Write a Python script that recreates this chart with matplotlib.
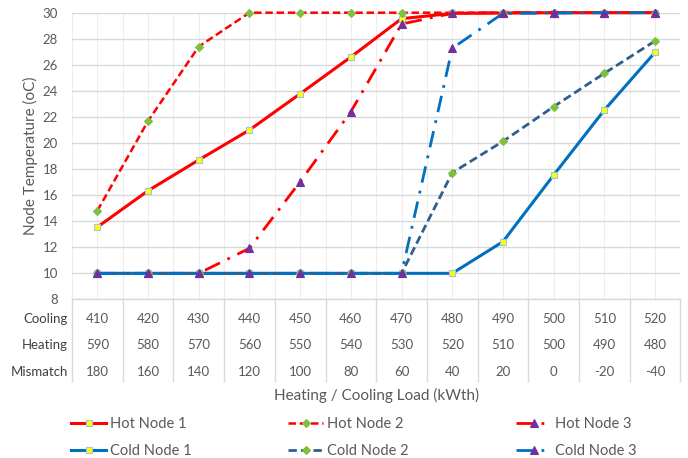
import numpy as np
import matplotlib
matplotlib.use("Agg")
import matplotlib.pyplot as plt
from matplotlib.transforms import blended_transform_factory

plt.rcParams['font.family'] = ['Lato', 'DejaVu Sans']

cooling = [410, 420, 430, 440, 450, 460, 470, 480, 490, 500, 510, 520]
heating = [590, 580, 570, 560, 550, 540, 530, 520, 510, 500, 490, 480]
mismatch = [180, 160, 140, 120, 100, 80, 60, 40, 20, 0, -20, -40]

hot1 = [13.55, 16.34, 18.7, 21.0, 23.78, 26.6, 29.54, 29.95, 29.97, 30, 30, 30]
hot2 = [14.8, 21.69, 27.4, 30, 30, 30, 30, 30, 30, 30, 30, 30]
hot3 = [10, 10, 10, 11.92, 17.03, 22.4, 29.13, 29.95, 30, 30, 30, 30]
cold1 = [10, 10, 10, 10, 10, 10, 10, 10, 12.43, 17.54, 22.53, 26.96]
cold2 = [10, 10, 10, 10, 10, 10, 10, 17.72, 20.13, 22.79, 25.35, 27.83]
cold3 = [10, 10, 10, 10, 10, 10, 10, 27.27, 29.95, 29.97, 30, 30]

TXT = '#595959'
RED = '#FF0000'
BLUE = '#0070C0'
DBLUE = '#2F5F8F'
YEL = '#FFFF00'
SQE = '#9DC3E6'
GRN = '#7FBF3F'
PUR = '#7030A0'

W, H = 688, 458
fig = plt.figure(figsize=(W / 100, H / 100), dpi=100)
ax = fig.add_axes([72 / W, 1 - 299.4 / H, (680.4 - 72) / W, (299.4 - 12.7) / H])

x = np.arange(len(cooling))
series = [
    ('Hot Node 1', hot1, RED, '-', 's', YEL, SQE, 2.2),
    ('Hot Node 2', hot2, RED, (0, (3, 1.5)), 'D', GRN, GRN, 1.8),
    ('Hot Node 3', hot3, RED, (0, (6, 3, 1, 3)), '^', PUR, PUR, 2.0),
    ('Cold Node 1', cold1, BLUE, '-', 's', YEL, SQE, 2.2),
    ('Cold Node 2', cold2, DBLUE, (0, (3, 1.5)), 'D', GRN, GRN, 2.0),
    ('Cold Node 3', cold3, BLUE, (0, (6, 3, 1, 3)), '^', PUR, PUR, 2.0),
]
handles = []
for i, (lab, y, c, ls, m, mfc, mec, lw) in enumerate(series):
    ms = 5.0 if m == 's' else (4.5 if m == 'D' else 6.0)
    h, = ax.plot(x, y, color=c, linestyle=ls, linewidth=lw, marker=m,
                 markersize=ms, markerfacecolor=mfc, markeredgecolor=mec,
                 markeredgewidth=0.8, label=lab, zorder=3 + i, clip_on=False)
    handles.append(h)

ax.set_xlim(-0.5, len(cooling) - 0.5)
ax.set_ylim(8, 30)
ax.set_yticks(np.arange(8, 31, 2))
ax.set_xticks(np.arange(-0.5, len(cooling), 1))
ax.set_xticks(x, minor=True)
ax.set_xticklabels([])
ax.tick_params(axis='both', which='both', length=0)
ax.tick_params(axis='y', labelsize=9.5, labelcolor=TXT, pad=10)
ax.grid(axis='y', color='#D9D9D9', linewidth=1.0)
ax.grid(axis='x', which='both', color='#EDEDED', linewidth=0.8)
ax.set_axisbelow(True)
for s in ['top', 'right', 'left']:
    ax.spines[s].set_visible(False)
ax.spines['bottom'].set_color('#D9D9D9')
ax.spines['bottom'].set_linewidth(1.0)

ax.set_ylabel('Node Temperature (oC)', fontsize=11, color=TXT, labelpad=3)

# table below the plot
tr = blended_transform_factory(ax.transData, fig.transFigure)
bottom_px = 382
ax.vlines(np.arange(-0.5, len(cooling), 1), 1 - 299.4 / H, 1 - bottom_px / H,
          transform=tr, colors='#D9D9D9', linewidth=1.0, clip_on=False)
rows = [('Cooling', cooling, 319), ('Heating', heating, 345), ('Mismatch', mismatch, 372)]
for name, vals, ypx in rows:
    yf = 1 - ypx / H
    fig.text(68 / W, yf, name, ha='right', va='center', fontsize=9.5, color='#404040')
    for xi, v in zip(x, vals):
        ax.text(xi, yf, str(v), transform=tr, ha='center', va='center',
                fontsize=9.5, color=TXT)

fig.text((72 + 680.4) / 2 / W, 1 - 395 / H, 'Heating / Cooling Load (kWth)',
         ha='center', va='center', fontsize=11, color=TXT)

# legend: three columns
col_x = [64, 281, 509]
for k in range(3):
    fig.legend([handles[k], handles[k + 3]],
               [series[k][0], series[k + 3][0]],
               loc='upper left', bbox_to_anchor=(col_x[k] / W, 1 - 410 / H),
               frameon=False, fontsize=10.5, handlelength=2.4,
               handletextpad=0.25, labelspacing=0.9, borderpad=0,
               labelcolor=TXT)

fig.savefig('out.png', dpi=100)
